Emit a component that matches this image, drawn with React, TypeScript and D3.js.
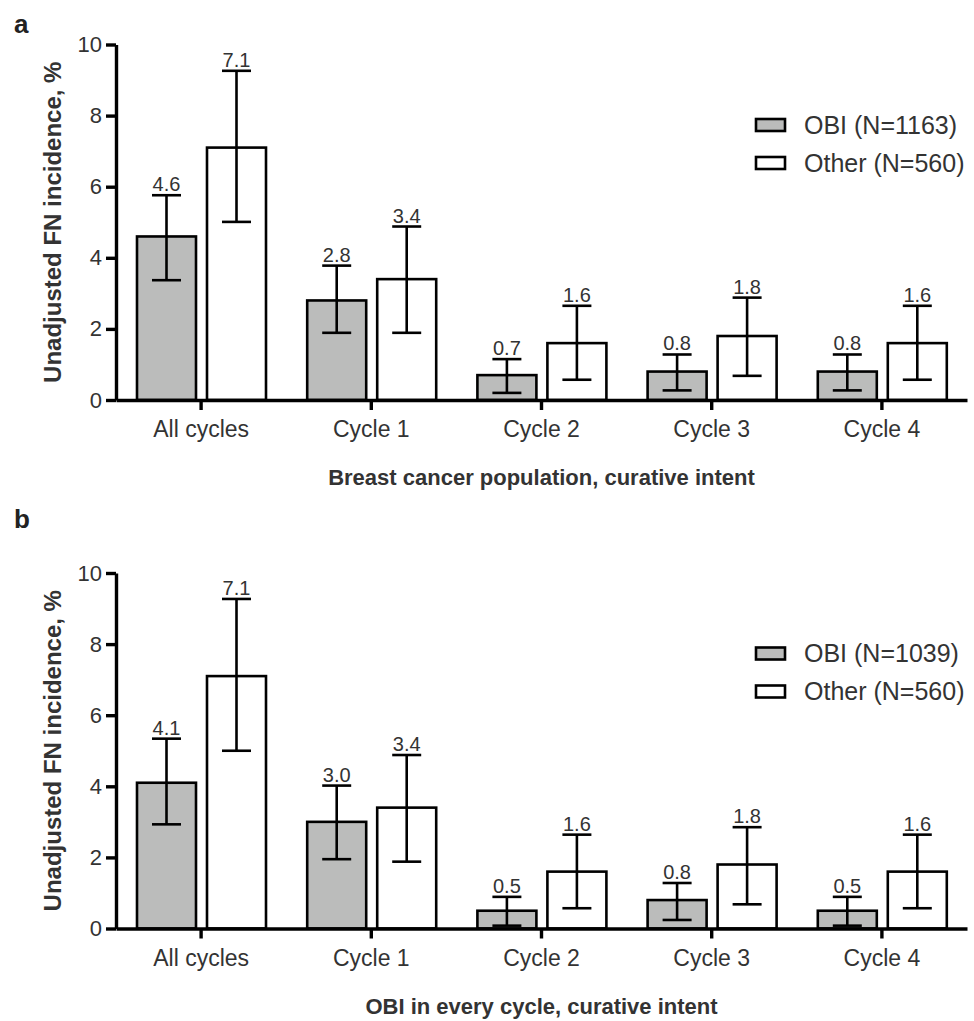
import { useEffect, useRef } from "react";
import * as d3 from "d3";

const categories = ["All cycles", "Cycle 1", "Cycle 2", "Cycle 3", "Cycle 4"];
const seriesNames = ["OBI", "Other"];
const yTicks = [0, 2, 4, 6, 8, 10];

// panel a: breast cancer population
const obiA = [4.6, 2.8, 0.7, 0.8, 0.8];
const obiALow = [3.37, 1.89, 0.2, 0.27, 0.27];
const obiAHigh = [5.76, 3.78, 1.15, 1.28, 1.28];
const otherA = [7.1, 3.4, 1.6, 1.8, 1.6];
const otherALow = [5.01, 1.89, 0.57, 0.68, 0.57];
const otherAHigh = [9.26, 4.88, 2.65, 2.88, 2.65];

// panel b: OBI in every cycle
const obiB = [4.1, 3.0, 0.5, 0.8, 0.5];
const obiBLow = [2.93, 1.95, 0.08, 0.24, 0.08];
const obiBHigh = [5.34, 4.02, 0.89, 1.28, 0.89];
const otherB = [7.1, 3.4, 1.6, 1.8, 1.6];
const otherBLow = [5.0, 1.88, 0.57, 0.68, 0.57];
const otherBHigh = [9.27, 4.88, 2.64, 2.85, 2.64];

const panels = [
  {
    letter: "a",
    offset: 0,
    letterY: 33,
    title: "Breast cancer population, curative intent",
    legend: ["OBI (N=1163)", "Other (N=560)"],
    series: [
      { values: obiA, low: obiALow, high: obiAHigh },
      { values: otherA, low: otherALow, high: otherAHigh },
    ],
  },
  {
    letter: "b",
    offset: 528.5,
    letterY: -0.5,
    title: "OBI in every cycle, curative intent",
    legend: ["OBI (N=1039)", "Other (N=560)"],
    series: [
      { values: obiB, low: obiBLow, high: obiBHigh },
      { values: otherB, low: otherBLow, high: otherBHigh },
    ],
  },
];

const fills = ["#bbbcbb", "#ffffff"];
const FONT = "'Liberation Sans', Arial, Helvetica, sans-serif";
const TXT = "#333";

export default function App() {
  const ref = useRef<SVGSVGElement>(null);

  useEffect(() => {
    if (!ref.current) return;
    const svg = d3.select(ref.current);
    svg.selectAll("*").remove();

    const x = d3.scaleBand().domain(categories).range([116, 967]);
    const xs = d3
      .scaleBand()
      .domain(seriesNames)
      .range([21, 150])
      .paddingInner(11 / 70);
    const y = d3.scaleLinear().domain([0, 10]).range([400, 44.5]);
    const capW = 29;

    panels.forEach((p) => {
      const g = svg
        .append("g")
        .attr("transform", `translate(0,${p.offset})`)
        .style("font-family", FONT);

      g.append("text")
        .attr("x", 14)
        .attr("y", p.letterY)
        .attr("font-size", 26)
        .attr("font-weight", "bold")
        .attr("fill", "#222")
        .text(p.letter);

      // bars + error bars
      p.series.forEach((s, si) => {
        const name = seriesNames[si];
        const grp = g
          .append("g")
          .selectAll("g")
          .data(categories)
          .enter()
          .append("g")
          .attr("transform", (c) => `translate(${x(c)! + xs(name)!},0)`);

        grp
          .append("rect")
          .attr("x", 0)
          .attr("width", xs.bandwidth())
          .attr("y", (_, i) => y(s.values[i]))
          .attr("height", (_, i) => y(0) - y(s.values[i]))
          .attr("fill", fills[si])
          .attr("stroke", "#000")
          .attr("stroke-width", 2.6);

        const cx = xs.bandwidth() / 2;
        grp
          .append("line")
          .attr("x1", cx)
          .attr("x2", cx)
          .attr("y1", (_, i) => y(s.low[i]))
          .attr("y2", (_, i) => y(s.high[i]))
          .attr("stroke", "#000")
          .attr("stroke-width", 2.6);
        ["low", "high"].forEach((k) => {
          grp
            .append("line")
            .attr("x1", cx - capW / 2)
            .attr("x2", cx + capW / 2)
            .attr("y1", (_, i) => y((s as any)[k][i]))
            .attr("y2", (_, i) => y((s as any)[k][i]))
            .attr("stroke", "#000")
            .attr("stroke-width", 2.6);
        });

        grp
          .append("text")
          .attr("x", cx)
          .attr("y", (_, i) => y(s.high[i]) - 4)
          .attr("text-anchor", "middle")
          .attr("font-size", 20)
          .attr("fill", TXT)
          .text((_, i) => s.values[i].toFixed(1));
      });

      // y axis
      const ya = g
        .append("g")
        .attr("transform", "translate(116,0)")
        .call(
          d3
            .axisLeft(y)
            .tickValues(yTicks)
            .tickSize(10)
            .tickSizeOuter(0)
            .tickPadding(4)
            .tickFormat(d3.format("d"))
        );
      ya.selectAll("path, line").attr("stroke", "#000").attr("stroke-width", 3.4);
      ya.selectAll("text")
        .attr("font-size", 22)
        .attr("font-family", FONT)
        .attr("fill", TXT);

      // x axis
      const xa = g
        .append("g")
        .attr("transform", `translate(0,${y(0)})`)
        .call(d3.axisBottom(x).tickSize(10).tickSizeOuter(0).tickPadding(0));
      xa.selectAll("path, line").attr("stroke", "#000").attr("stroke-width", 3.4);
      xa.selectAll("text")
        .attr("dy", null)
        .attr("y", 37)
        .attr("font-size", 23)
        .attr("font-family", FONT)
        .attr("fill", TXT);

      // axis titles
      g.append("text")
        .attr("transform", `translate(61,${(y(0) + y(10)) / 2}) rotate(-90)`)
        .attr("text-anchor", "middle")
        .attr("font-size", 24)
        .attr("font-weight", "bold")
        .attr("fill", TXT)
        .text("Unadjusted FN incidence, %");

      g.append("text")
        .attr("x", (116 + 967) / 2)
        .attr("y", 485)
        .attr("text-anchor", "middle")
        .attr("font-size", 22)
        .attr("font-weight", "bold")
        .attr("fill", TXT)
        .text(p.title);

      // legend
      const lg = g
        .append("g")
        .selectAll("g")
        .data(p.legend)
        .enter()
        .append("g")
        .attr("transform", (_, i) => `translate(755,${125 + i * 38})`);
      lg.append("rect")
        .attr("x", 1)
        .attr("y", -6)
        .attr("width", 29)
        .attr("height", 12)
        .attr("fill", (_, i) => fills[i])
        .attr("stroke", "#000")
        .attr("stroke-width", 2.6);
      lg.append("text")
        .attr("x", 49)
        .attr("y", 8.5)
        .attr("font-size", 25)
        .attr("fill", TXT)
        .text((d) => d);
    });
  }, []);

  return (
    <div style={{ position: "absolute", left: 0, top: 0, background: "#fff" }}>
      <svg ref={ref} width={974} height={1021} />
    </div>
  );
}
